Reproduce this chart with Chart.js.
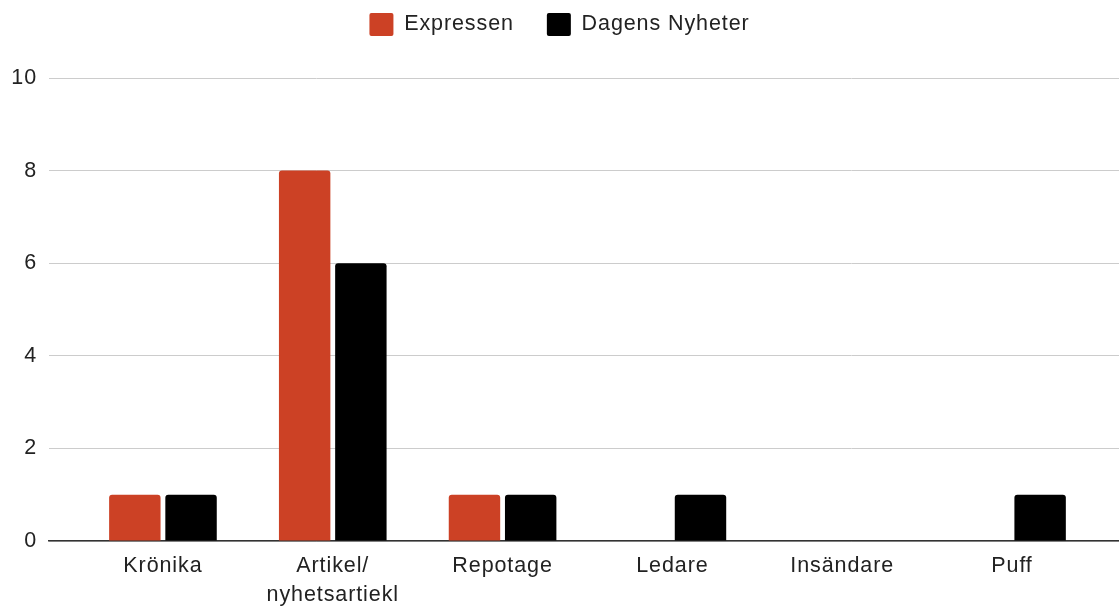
<!DOCTYPE html>
<html>
<head>
<meta charset="utf-8">
<script src="https://cdn.jsdelivr.net/npm/chart.js@4/dist/chart.umd.min.js"></script>
<style>
  html, body { margin: 0; padding: 0; background: #fff; }
  #wrap { width: 1119px; height: 608px; }
</style>
</head>
<body>
<div id="wrap"><canvas id="chart"></canvas></div>
<script>
const categories = ['Krönika', ['Artikel/', 'nyhetsartiekl'], 'Repotage', 'Ledare', 'Insändare', 'Puff'];
const expressen = [1, 8, 1, null, null, null];
const dagensNyheter = [1, 6, 1, 1, null, 1];
const yTicks = [0, 2, 4, 6, 8, 10];

const FONT = { family: '"Liberation Sans", Arial, sans-serif', size: 21.5 };

// the reference text is drawn a little wider than Arial
const spacing = {
  id: 'spacing',
  beforeUpdate(chart) { chart.ctx.letterSpacing = '0.9px'; },
  beforeDraw(chart) { chart.ctx.letterSpacing = '0.9px'; }
};

// legend: wide gap between items, but sitting near the top edge
const legendGap = {
  id: 'legendGap',
  beforeInit(chart) {
    const lg = chart.legend;
    const fit = lg.fit;
    lg.fit = function () {
      fit.call(this);
      this.height = 78;
    };
    const draw = lg.draw;
    lg.draw = function () {
      this.ctx.save();
      this.ctx.translate(0, -20);
      draw.call(this);
      this.ctx.restore();
    };
  }
};

const toPoints = arr => arr.map((v, i) => ({ x: i, y: v }));

new Chart(document.getElementById('chart'), {
  type: 'bar',
  data: {
    datasets: [
      {
        label: 'Expressen',
        data: toPoints(expressen),
        backgroundColor: '#CC4125',
        borderRadius: 3,
        categoryPercentage: 0.662,
        barPercentage: 0.915
      },
      {
        label: 'Dagens Nyheter',
        data: toPoints(dagensNyheter),
        backgroundColor: '#000000',
        borderRadius: 3,
        categoryPercentage: 0.662,
        barPercentage: 0.915
      }
    ]
  },
  options: {
    responsive: true,
    maintainAspectRatio: false,
    animation: false,
    layout: { padding: 0 },
    plugins: {
      legend: {
        position: 'top',
        labels: {
          font: FONT,
          color: '#222',
          boxWidth: 24,
          boxHeight: 23,
          padding: 33,
          useBorderRadius: true,
          borderRadius: 2
        }
      },
      tooltip: { enabled: false }
    },
    scales: {
      x: {
        type: 'linear',
        offset: false,
        min: -0.671,
        max: 5.63,
        afterBuildTicks: axis => { axis.ticks = categories.map((c, i) => ({ value: i })); },
        afterFit: axis => { axis.height = 67; },
        ticks: {
          font: { ...FONT, lineHeight: 1.38 },
          color: '#222',
          padding: 10,
          maxRotation: 0,
          autoSkip: false,
          callback: v => categories[v]
        },
        grid: { display: false, drawTicks: false },
        border: { display: true, color: '#333', width: 1.5 }
      },
      y: {
        min: 0,
        max: 10,
        afterBuildTicks: axis => { axis.ticks = yTicks.map(v => ({ value: v })); },
        afterFit: axis => { axis.width = 49; },
        ticks: { font: FONT, color: '#222', padding: 12 },
        grid: { color: '#cccccc', lineWidth: 1, drawTicks: false },
        border: { display: false }
      }
    }
  },
  plugins: [spacing, legendGap]
});
</script>
</body>
</html>
